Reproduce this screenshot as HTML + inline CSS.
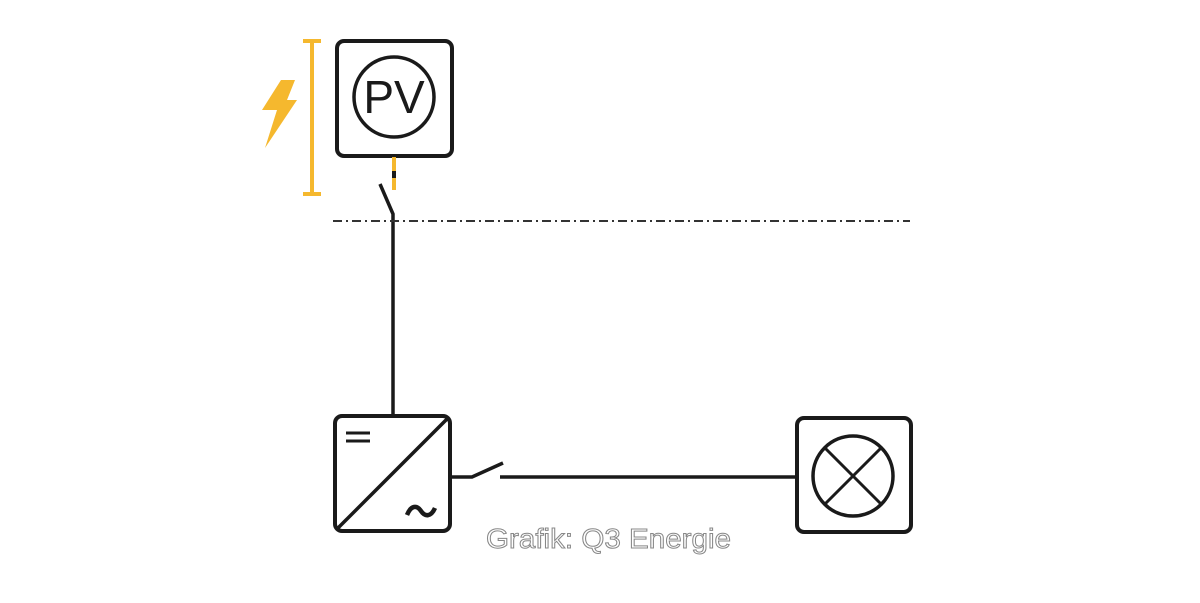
<!DOCTYPE html>
<html><head><meta charset="utf-8"><style>
html,body{margin:0;padding:0;background:#fff;width:1200px;height:603px;overflow:hidden}
</style></head><body>
<svg width="1200" height="603" viewBox="0 0 1200 603" xmlns="http://www.w3.org/2000/svg">
<g fill="none" stroke="#1a1a1a" stroke-width="4">
<rect x="337" y="41" width="115" height="115" rx="7"/>
<circle cx="394" cy="97" r="40" stroke-width="3.5"/>
</g>
<text x="394" y="113" text-anchor="middle" font-family="Liberation Sans, sans-serif" font-size="46" fill="#1a1a1a">PV</text>
<g stroke="#f5b82e" stroke-width="4" fill="none">
<line x1="312" y1="40" x2="312" y2="195"/>
<line x1="303" y1="41" x2="321" y2="41"/>
<line x1="303" y1="194" x2="321" y2="194"/>
<line x1="394" y1="157" x2="394" y2="190"/>
</g>
<line x1="394" y1="171" x2="394" y2="178" stroke="#1a1a1a" stroke-width="4"/>
<polygon points="281,80 295,80 287,100 297,100 265,148 277,110 262,110" fill="#f5b82e"/>
<g stroke="#1a1a1a" stroke-width="3.5" fill="none">
<polyline points="380,184 393,214 393,415"/>
</g>
<line x1="333" y1="221" x2="910" y2="221" stroke="#333" stroke-width="2" stroke-dasharray="9,4,2,4"/>
<g fill="none" stroke="#1a1a1a" stroke-width="4">
<rect x="335" y="416" width="115" height="115" rx="7"/>
<line x1="337" y1="529" x2="448" y2="418" stroke-width="3.5"/>
<line x1="346" y1="433" x2="370" y2="433" stroke-width="3"/>
<line x1="346" y1="441" x2="370" y2="441" stroke-width="3"/>
<path d="M407,515 C411,505 417,505 421,511 C425,517 431,517 435,508" stroke-width="4.5"/>
</g>
<g stroke="#1a1a1a" stroke-width="3.5" fill="none">
<polyline points="451,477 472,477 503,463"/>
<line x1="500" y1="477" x2="797" y2="477"/>
</g>
<g fill="none" stroke="#1a1a1a" stroke-width="4">
<rect x="797" y="418" width="114" height="114" rx="7"/>
<circle cx="853" cy="476" r="40" stroke-width="3.5"/>
<line x1="825" y1="448" x2="881" y2="504" stroke-width="3"/>
<line x1="881" y1="448" x2="825" y2="504" stroke-width="3"/>
</g>
<text x="486" y="548" textLength="245" lengthAdjust="spacingAndGlyphs" font-family="Liberation Sans, sans-serif" font-size="28" fill="#fff" stroke="#888" stroke-width="1">Grafik: Q3 Energie</text>
</svg>
</body></html>
